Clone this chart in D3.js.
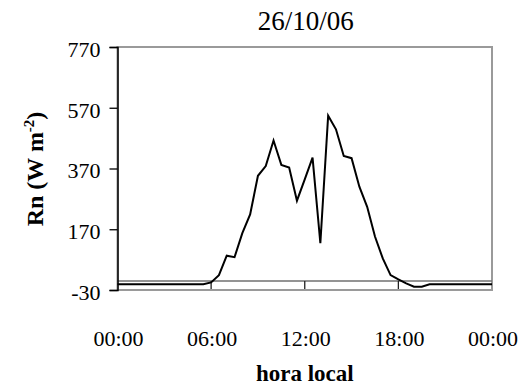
<!DOCTYPE html>
<html>
<head>
<meta charset="utf-8">
<script src="https://cdn.jsdelivr.net/npm/d3@7"></script>
<style>
  html, body { margin: 0; padding: 0; background: #fff; }
  svg { display: block; }
  text { font-family: "Liberation Serif", "Times New Roman", serif; fill: #000; }
</style>
</head>
<body>
<svg id="chart" width="530" height="387"></svg>
<script>
// Net radiation, half-hourly, 26/10/06 (hours of local time)
const hours = d3.range(0, 24.5, 0.5);
const rn = [
  -11, -11, -11, -11, -11, -11, -11, -11, -11, -11,   // 00:00 - 04:30
  -11, -11, -5, 19, 83, 78, 157, 219, 346, 378,       // 05:00 - 09:30
  462, 382, 373, 264, 334, 406, 124, 544, 499, 411,   // 10:00 - 14:30
  404, 310, 244, 146, 74, 19, 5, -8, -19, -19,        // 15:00 - 19:30
  -11, -11, -11, -11, -11, -11, -11, -11, -11         // 20:00 - 24:00
];
const yTicks = [-30, 170, 370, 570, 770];
const xTicks = [0, 6, 12, 18, 24];
const xTickLabels = ["00:00", "06:00", "12:00", "18:00", "00:00"];
const title = "26/10/06";
const xTitle = "hora local";

const svg = d3.select("#chart");
const plotL = 117.5, plotR = 492, plotT = 47, plotB = 290;

const x = d3.scaleLinear().domain([0, 24]).range([plotL, plotR]);
const y = d3.scaleLinear().domain([-30, 770]).range([plotB, plotT]);

// plot-area frame
svg.append("rect")
  .attr("x", plotL).attr("y", plotT)
  .attr("width", plotR - plotL).attr("height", plotB - plotT)
  .attr("fill", "none").attr("stroke", "#9a9a9a").attr("stroke-width", 2);

// horizontal axis crossing at zero, with tick marks down to the frame
svg.append("line")
  .attr("x1", plotL).attr("x2", plotR)
  .attr("y1", y(0)).attr("y2", y(0))
  .attr("stroke", "#707070").attr("stroke-width", 1.5);
svg.selectAll(".xtick").data(xTicks.slice(1, -1)).join("line")
  .attr("x1", d => x(d)).attr("x2", d => x(d))
  .attr("y1", y(0)).attr("y2", plotB - 1)
  .attr("stroke", "#222").attr("stroke-width", 1.3);

// vertical axis
const yAxis = d3.axisLeft(y).tickValues(yTicks).tickSize(8).tickPadding(10)
  .tickFormat(d => String(d));
const gy = svg.append("g").attr("transform", `translate(${plotL},0)`).call(yAxis);
gy.select(".domain").attr("stroke", "#000").attr("stroke-width", 1.5);
gy.selectAll(".tick line").attr("stroke", "#000").attr("stroke-width", 1.3);
gy.selectAll(".tick text")
  .style("font-size", "22px")
  .style("font-family", "'Liberation Serif', serif")
  .attr("dy", "0.42em")
  .attr("x", -17);

// time labels
svg.selectAll(".xlab").data(xTicks).join("text")
  .attr("x", d => x(d) + 1).attr("y", 346)
  .attr("text-anchor", "middle")
  .attr("font-size", 22)
  .text((d, i) => xTickLabels[i]);

// series
const line = d3.line().x((d, i) => x(hours[i])).y(d => y(d));
svg.append("path")
  .datum(rn)
  .attr("d", line)
  .attr("fill", "none")
  .attr("stroke", "#000")
  .attr("stroke-width", 2)
  .attr("stroke-linejoin", "miter");

// titles
svg.append("text")
  .attr("x", (plotL + plotR) / 2 + 1).attr("y", 30)
  .attr("text-anchor", "middle")
  .attr("font-size", 27)
  .text(title);

svg.append("text")
  .attr("x", (plotL + plotR) / 2).attr("y", 381)
  .attr("text-anchor", "middle")
  .attr("font-size", 23)
  .attr("font-weight", "bold")
  .text(xTitle);

const yl = svg.append("text")
  .attr("transform", "translate(43,169) rotate(-90)")
  .attr("text-anchor", "middle")
  .attr("font-size", 24)
  .attr("font-weight", "bold");
yl.append("tspan").text("Rn (W m");
yl.append("tspan").attr("font-size", 15).attr("dy", -9).text("-2");
yl.append("tspan").attr("dy", 9).text(")");
</script>
</body>
</html>
